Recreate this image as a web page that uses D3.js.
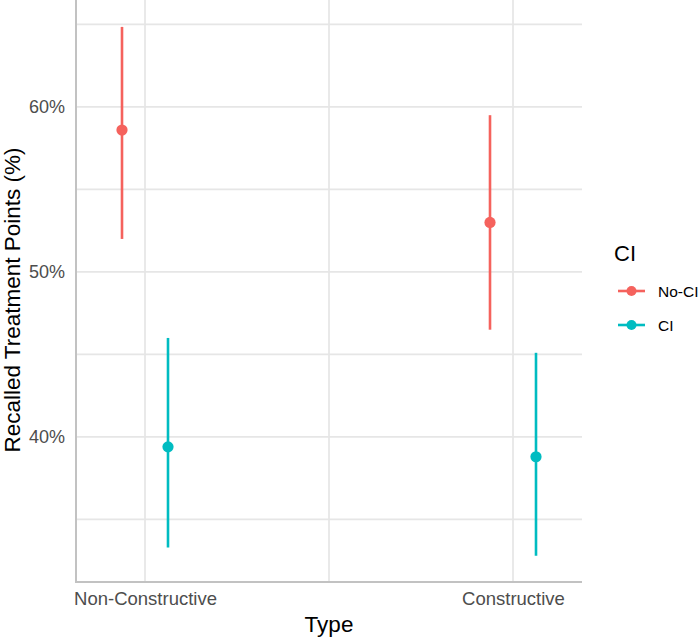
<!DOCTYPE html>
<html>
<head>
<meta charset="utf-8">
<script src="https://cdn.jsdelivr.net/npm/d3@7"></script>
<style>
  html, body { margin: 0; padding: 0; background: #fff; }
  svg { display: block; font-family: "Liberation Sans", Arial, sans-serif; }
</style>
</head>
<body>
<svg id="chart" width="700" height="638"></svg>
<script>
// ---- data ----
const types = ["Non-Constructive", "Constructive"];
const groups = ["No-CI", "CI"];
const meanNoCI = [0.586, 0.530];
const meanCI   = [0.394, 0.388];
const lowNoCI  = [0.520, 0.465];
const highNoCI = [0.6485, 0.595];
const lowCI    = [0.333, 0.328];
const highCI   = [0.460, 0.451];
const yMajorTicks = [0.4, 0.5, 0.6];
const yMinorTicks = [0.35, 0.45, 0.55, 0.65];
const colors = ["#F5625D", "#00BCC1"];

const rows = [];
types.forEach((t, i) => {
  rows.push({type: t, group: "No-CI", m: meanNoCI[i], lo: lowNoCI[i], hi: highNoCI[i]});
  rows.push({type: t, group: "CI", m: meanCI[i], lo: lowCI[i], hi: highCI[i]});
});

const svg = d3.select("#chart");
const panel = {left: 76, right: 582, top: 0, bottom: 582};

const x = d3.scalePoint().domain(types).range([panel.left, panel.right]).padding(0.1875);
const dodge = d3.scalePoint().domain(groups).range([-0.0625, 0.0625]);
const y = d3.scaleLinear().domain([0.3121, 0.6648]).range([panel.bottom, panel.top]);
const color = d3.scaleOrdinal().domain(groups).range(colors);

const gridColor = "#e6e6e6";
const g = svg.append("g");

// horizontal gridlines
g.selectAll("line.hgrid").data(yMinorTicks.concat(yMajorTicks)).enter().append("line")
  .attr("x1", panel.left).attr("x2", panel.right)
  .attr("y1", d => y(d)).attr("y2", d => y(d))
  .attr("stroke", gridColor).attr("stroke-width", 1.7);

// vertical gridlines (major at categories, minor between)
const step = x.step();
const vgrid = types.map(t => x(t)).concat([(x(types[0]) + x(types[1])) / 2]);
g.selectAll("line.vgrid").data(vgrid).enter().append("line")
  .attr("x1", d => d).attr("x2", d => d)
  .attr("y1", panel.top).attr("y2", panel.bottom)
  .attr("stroke", gridColor).attr("stroke-width", 1.7);

// axis lines
g.append("line").attr("x1", panel.left).attr("x2", panel.left)
  .attr("y1", panel.top).attr("y2", panel.bottom + 0.8)
  .attr("stroke", "#c2c2c2").attr("stroke-width", 2);
g.append("line").attr("x1", panel.left - 1).attr("x2", panel.right)
  .attr("y1", panel.bottom).attr("y2", panel.bottom)
  .attr("stroke", "#c2c2c2").attr("stroke-width", 2);

// y tick labels via axis
const yAxis = d3.axisLeft(y).tickValues(yMajorTicks).tickFormat(d3.format(".0%")).tickSize(0).tickPadding(11);
const ya = svg.append("g").attr("transform", `translate(${panel.left},0)`).call(yAxis);
ya.select(".domain").remove();
ya.selectAll("text").attr("fill", "#4d4d4d").style("font-size", "18px")
  .style("font-family", "'Liberation Sans', Arial, sans-serif");

// x tick labels via axis
const xAxis = d3.axisBottom(x).tickSize(0).tickPadding(10);
const xa = svg.append("g").attr("transform", `translate(0,${panel.bottom})`).call(xAxis);
xa.select(".domain").remove();
xa.selectAll("text").attr("fill", "#4d4d4d").style("font-size", "18.5px")
  .style("font-family", "'Liberation Sans', Arial, sans-serif");

// error bars
const px = d => x(d.type) + dodge(d.group) * step;
svg.selectAll("line.err").data(rows).enter().append("line")
  .attr("x1", px).attr("x2", px)
  .attr("y1", d => y(d.lo)).attr("y2", d => y(d.hi))
  .attr("stroke", d => color(d.group)).attr("stroke-width", 2.6);

// points
svg.selectAll("circle.pt").data(rows).enter().append("circle")
  .attr("cx", px).attr("cy", d => y(d.m)).attr("r", 5.6)
  .attr("fill", d => color(d.group));

// axis titles
svg.append("text").attr("x", (panel.left + panel.right) / 2).attr("y", 632)
  .attr("text-anchor", "middle").attr("fill", "#000").style("font-size", "22.5px").text("Type");
svg.append("text")
  .attr("transform", `translate(19.5,300) rotate(-90)`)
  .attr("text-anchor", "middle").attr("fill", "#000").style("font-size", "22.5px")
  .text("Recalled Treatment Points (%)");

// legend
const leg = svg.append("g");
leg.append("text").attr("x", 614).attr("y", 261).attr("fill", "#000")
  .style("font-size", "22px").text("CI");
const items = leg.selectAll("g.item").data(groups).enter().append("g")
  .attr("transform", (d, i) => `translate(0,${291 + i * 34})`);
items.append("line").attr("x1", 618).attr("x2", 645).attr("y1", 0).attr("y2", 0)
  .attr("stroke", d => color(d)).attr("stroke-width", 2.6);
items.append("circle").attr("cx", 631.5).attr("cy", 0).attr("r", 5)
  .attr("fill", d => color(d));
items.append("text").attr("x", 658).attr("y", 0).attr("dy", "0.36em")
  .attr("fill", "#000").style("font-size", "15.5px").text(d => d);
</script>
</body>
</html>
